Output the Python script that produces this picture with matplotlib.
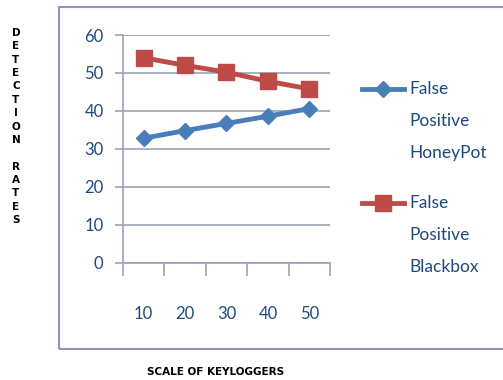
import numpy as np
import matplotlib.pyplot as plt
from matplotlib.patches import Rectangle
from matplotlib.lines import Line2D

scale = ["10", "20", "30", "40", "50"]
honeypot = [32.8, 34.8, 36.7, 38.6, 40.6]
blackbox = [54.0, 52.0, 50.2, 47.8, 45.8]
series_names = [["False", "Positive", "HoneyPot"], ["False", "Positive", "Blackbox"]]

txt_col = "#1F497D"
grid_col = "#9AA3B5"
colors = ["#4A7EBB", "#BE4B48"]
markers = [("D", 8), ("s", 11)]

fig = plt.figure(figsize=(5.03, 3.80), dpi=100)
fig.patches.append(Rectangle((59 / 503, 1 - 349 / 380), 1.0, (349 - 7) / 380,
                             transform=fig.transFigure, fill=False,
                             edgecolor="#8E99AD", linewidth=1.5))

ax = fig.add_axes([123 / 503, 1 - 262.7 / 380, 207 / 503, 227.7 / 380])
x = np.arange(len(scale))
for vals, c, (m, ms) in zip([honeypot, blackbox], colors, markers):
    ax.plot(x, vals, color=c, lw=3.5, marker=m, ms=ms)

ax.set_xlim(-0.5, 4.5)
ax.set_ylim(0, 60)
ax.set_yticks(range(0, 61, 10))
ax.yaxis.grid(True, color=grid_col, lw=1.2)
ax.set_axisbelow(True)
for s in ["top", "right"]:
    ax.spines[s].set_visible(False)
for s in ["left", "bottom"]:
    ax.spines[s].set_color(grid_col)
    ax.spines[s].set_linewidth(1.2)

ax.set_xticks(np.arange(-0.5, 5, 1))
ax.set_xticklabels([])
ax.set_xticks(x, minor=True)
ax.set_xticklabels(scale, minor=True)
ax.tick_params(axis="x", which="major", length=9, color=grid_col, width=1.2)
ax.tick_params(axis="x", which="minor", length=0, pad=31, labelsize=12,
               labelcolor=txt_col)
ax.tick_params(axis="y", length=6, color=grid_col, width=1.2, pad=8,
               labelsize=12, labelcolor=txt_col)
for t in ax.get_xticklabels(minor=True) + ax.get_yticklabels():
    t.set_fontfamily("Lato")

# legend, first text line next to the marker like the original
for i, (name, c, (m, ms)) in enumerate(zip(series_names, colors, markers)):
    y0 = 1 - (89 + i * 114) / 380
    fig.add_artist(Line2D([362 / 503, 404 / 503], [y0, y0], color=c, lw=3.5,
                          transform=fig.transFigure))
    fig.add_artist(Line2D([383 / 503], [y0], color=c, marker=m, ms=ms,
                          transform=fig.transFigure))
    for j, line in enumerate(name):
        fig.text(409 / 503, y0 - j * 32 / 380, line, ha="left", va="center",
                 color=txt_col, fontsize=12.5, family="Lato")

fig.text(16 / 503, 1 - 28 / 380, "\n".join("DETECTION RATES"), ha="center",
         va="top", fontsize=7.5, fontweight="bold", linespacing=1.42)
fig.text(216 / 503, 1 - 372 / 380, "SCALE OF KEYLOGGERS", ha="center",
         va="center", fontsize=7.5, fontweight="bold")

fig.savefig("out.png", dpi=100)
